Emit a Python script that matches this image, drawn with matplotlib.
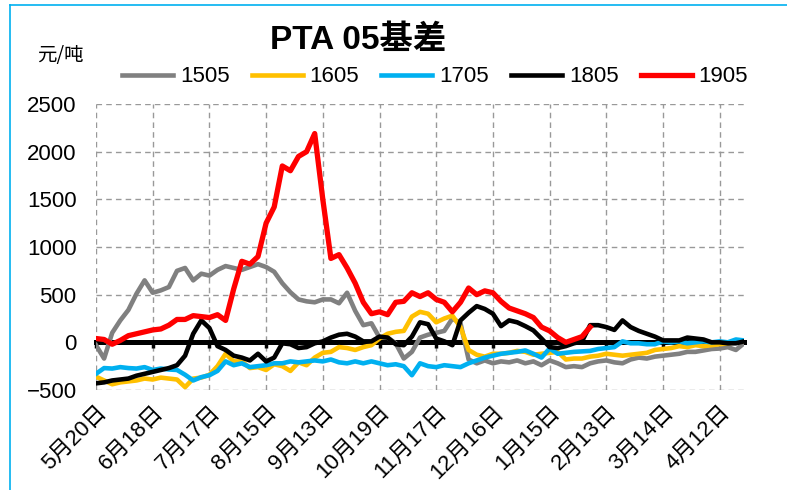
import numpy as np
import matplotlib
matplotlib.use('Agg')
import matplotlib.pyplot as plt
from matplotlib.lines import Line2D

plt.rcParams['font.family'] = ['Liberation Sans', 'Noto Sans CJK SC', 'DejaVu Sans']
plt.rcParams['axes.unicode_minus'] = True

# trading-day index, one reading every 3 days
days = np.arange(0, 241, 3)
tick_days = np.arange(0, 232, 21)
tick_labels = ['5月20日', '6月18日', '7月17日', '8月15日', '9月13日', '10月19日',
               '11月17日', '12月16日', '1月15日', '2月13日', '3月14日', '4月12日']

basis_1505 = [-30, -170, 100, 230, 340, 510, 650, 520, 545, 580, 750, 780, 650, 720, 700, 760,
              800, 780, 760, 790, 820, 790, 740, 620, 525, 450, 430, 420, 450, 450, 410, 520,
              330, 180, 200, 50, 50, -10, -170, -100, 50, 80, 100, 120, 250, 200, -180, -220,
              -190, -220, -200, -210, -190, -220, -200, -240, -190, -220, -260, -250, -260, -220,
              -200, -190, -210, -220, -180, -160, -170, -150, -140, -130, -120, -100, -100, -85,
              -70, -65, -50, -80, -10]
basis_1605 = [-360, -400, -440, -420, -410, -400, -380, -390, -370, -380, -390, -470, -380, -370,
              -340, -250, -120, -200, -200, -270, -260, -290, -230, -250, -300, -210, -240, -160,
              -110, -100, -50, -60, -80, -50, -30, 40, 90, 110, 120, 270, 320, 300, 210, 250, 280,
              160, -80, -130, -150, -120, -120, -110, -90, -100, -130, -120, -110, -100, -180,
              -170, -170, -150, -140, -120, -130, -140, -130, -120, -110, -80, -70, -60, -40, -50,
              -30, -40, -30, -20, -10, 0, 10]
basis_1705 = [-330, -270, -275, -260, -270, -275, -260, -290, -275, -285, -290, -340, -400, -365,
              -345, -300, -200, -240, -220, -260, -250, -240, -220, -220, -200, -210, -200, -190,
              -200, -180, -210, -220, -200, -220, -200, -220, -240, -230, -250, -345, -220, -250,
              -260, -240, -250, -260, -220, -190, -160, -140, -120, -110, -100, -85, -120, -160,
              -65, -120, -110, -100, -95, -90, -70, -60, -50, 10, -10, -10, -20, -20, 10, 0, 10,
              -10, 0, 10, 0, 10, 0, 30, 20]
basis_1805 = [-430, -420, -400, -390, -380, -350, -330, -310, -290, -270, -240, -140, 90, 230, 150,
              -40, -80, -140, -160, -190, -120, -200, -160, -10, -20, -60, -50, -10, 10, 50, 80,
              90, 60, 10, 10, 60, 50, -20, -30, 60, 210, 190, 40, 10, -30, 230, 310, 380, 350,
              300, 170, 230, 210, 170, 125, 40, -50, -60, -40, -10, 10, 180, 180, 160, 130, 230,
              160, 120, 90, 60, 20, 20, 20, 50, 40, 30, 0, 0, -10, -10, 10]
basis_1905 = [40, 30, -20, 20, 70, 90, 110, 130, 140, 180, 240, 240, 280, 270, 260, 290, 230, 560,
              850, 820, 900, 1250, 1420, 1850, 1800, 1950, 2000, 2190, 1500, 880, 920, 780, 620,
              420, 300, 320, 290, 420, 430, 520, 480, 520, 450, 420, 320, 420, 570, 500, 540, 520,
              430, 360, 330, 300, 260, 160, 120, 50, 0, 30, 60, 160]

series = [('1505', basis_1505, '#808080', 3.3),
          ('1605', basis_1605, '#FFC000', 3.3),
          ('1705', basis_1705, '#00B0F0', 3.3),
          ('1805', basis_1805, '#000000', 3.3),
          ('1905', basis_1905, '#FF0000', 3.8)]

fig = plt.figure(figsize=(7.87, 4.90), dpi=100)
ax = fig.add_axes([96 / 787, 1 - 390 / 490, 648 / 787, 286 / 490])

for i, (name, vals, color, lw) in enumerate(series):
    ax.plot(days[:len(vals)], vals, color=color, lw=lw, label=name, zorder=3 + i,
            solid_joinstyle='round')

ax.set_xlim(0, 240)
ax.set_ylim(-500, 2500)
ax.set_yticks(np.arange(-500, 2501, 500))
ax.set_xticks(tick_days)
ax.grid(True, color='#999999', linestyle=(0, (4, 3)), linewidth=1.0, zorder=0)
ax.set_axisbelow(True)

for s in ['left', 'right', 'top']:
    ax.spines[s].set_visible(False)
ax.spines['bottom'].set_position(('data', 0))
ax.spines['bottom'].set_linewidth(3.6)
ax.spines['bottom'].set_zorder(2.5)
ax.tick_params(axis='x', direction='out', length=4, width=2.5, labelbottom=False)
ax.tick_params(axis='y', length=0, pad=14, labelsize=16)

sec = ax.secondary_xaxis('bottom')
sec.set_xticks(tick_days, tick_labels, rotation=45, ha='right', rotation_mode='anchor',
               fontsize=16)
sec.spines['bottom'].set_visible(False)
sec.tick_params(length=0, pad=8)

fig.text(358 / 787, 1 - 40 / 490, 'PTA 05基差', ha='center', va='center', fontsize=24,
         fontweight='bold')
fig.text(60 / 787, 1 - 55 / 490, '元/吨', ha='center', va='center', fontsize=14,
         family=['Noto Sans CJK SC'])

fig.legend(loc='center', bbox_to_anchor=(435 / 787, 1 - 77 / 490), ncol=5, frameon=False,
           fontsize=16, handlelength=2.3, handletextpad=0.3, columnspacing=1.0)

# thin blue frame of the original sheet
fig.add_artist(Line2D([10 / 787, 1], [1 - 5 / 490, 1 - 5 / 490], color='#00B0F0', lw=1.2,
                      transform=fig.transFigure))
fig.add_artist(Line2D([10 / 787, 10 / 787], [0, 1 - 5 / 490], color='#00B0F0', lw=1.2,
                      transform=fig.transFigure))

fig.savefig('out.png', dpi=100)
